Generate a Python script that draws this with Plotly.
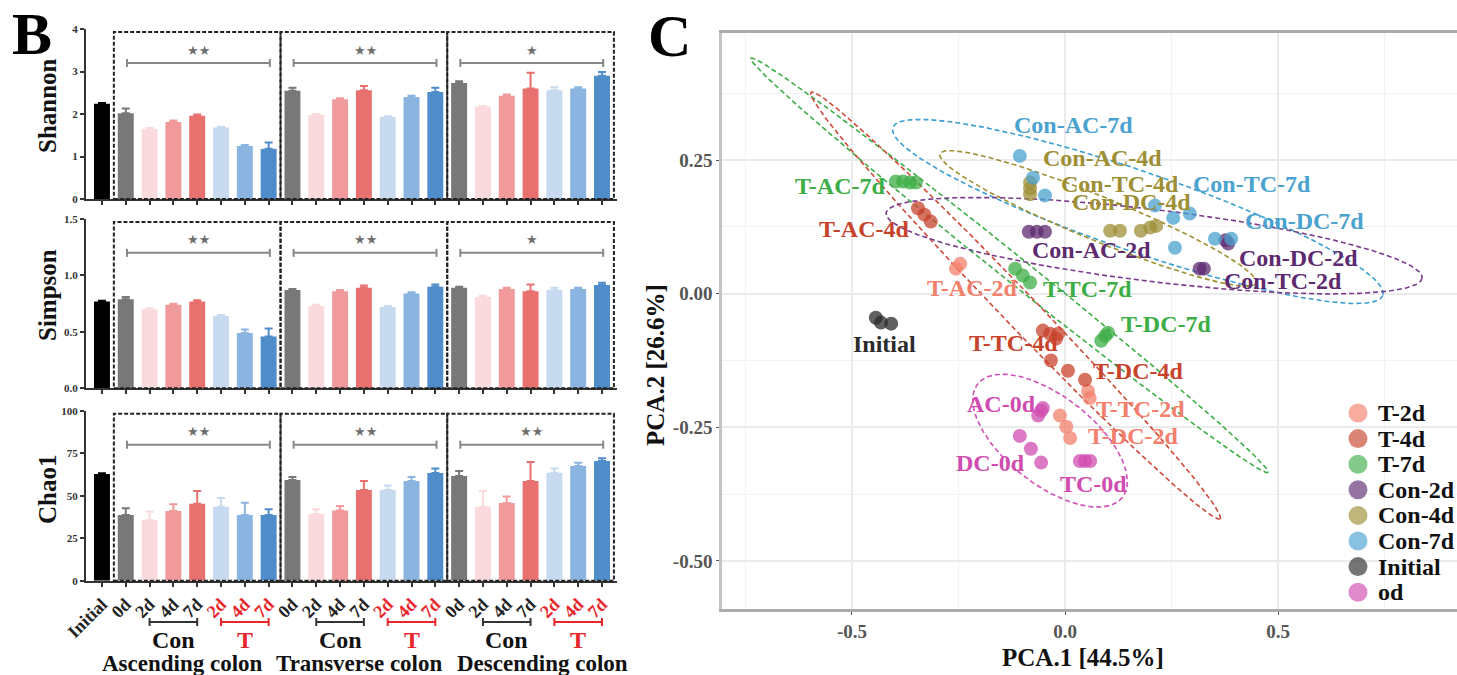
import numpy as np
import plotly.graph_objects as go

W, H = 1457, 675
SERIF = "Liberation Serif"


def px(x):
    return x / W


def py(y):
    return 1 - y / H


# ---------------- Panel B: alpha diversity ----------------
bar_labels = ["Initial"] + ["0d", "2d", "4d", "7d", "2d", "4d", "7d"] * 3
group_names = ["Initial", "0d", "Con-2d", "Con-4d", "Con-7d", "T-2d", "T-4d", "T-7d"]
group_colors = ["#000000", "#787878", "#FADADC", "#F09A9C", "#E8716F",
                "#C7DAF0", "#8BB5E0", "#4F8CCA"]
colon_names = ["Ascending colon", "Transverse colon", "Descending colon"]

shannon_mean = [2.24, 2.02, 1.65, 1.81, 1.96, 1.68, 1.25, 1.18,
                2.55, 1.98, 2.35, 2.56, 1.93, 2.40, 2.52,
                2.73, 2.17, 2.43, 2.60, 2.56, 2.60, 2.90]
shannon_err = [0.02, 0.11, 0.02, 0.04, 0.03, 0.02, 0.02, 0.15,
               0.07, 0.02, 0.02, 0.10, 0.02, 0.03, 0.10,
               0.04, 0.02, 0.03, 0.37, 0.07, 0.03, 0.09]
simpson_mean = [0.77, 0.79, 0.70, 0.74, 0.77, 0.64, 0.49, 0.46,
                0.87, 0.73, 0.86, 0.89, 0.72, 0.84, 0.90,
                0.89, 0.81, 0.88, 0.86, 0.87, 0.88, 0.915]
simpson_err = [0.005, 0.02, 0.01, 0.01, 0.01, 0.01, 0.03, 0.07,
               0.01, 0.01, 0.01, 0.02, 0.01, 0.01, 0.02,
               0.01, 0.01, 0.01, 0.06, 0.02, 0.01, 0.02]
chao1_mean = [62.7, 38.6, 35.7, 41.0, 45.2, 43.5, 38.6, 38.6,
              59.2, 39.2, 41.3, 53.3, 53.3, 58.7, 63.3,
              61.6, 43.5, 45.7, 58.7, 63.5, 67.4, 70.4]
chao1_err = [0.5, 4.0, 5.0, 4.0, 7.6, 5.1, 7.3, 3.4,
             1.8, 2.8, 2.7, 5.4, 2.7, 2.3, 2.7,
             2.9, 9.3, 3.9, 11.1, 2.5, 2.0, 1.6]
sig_shannon = ["**", "**", "*"]
sig_simpson = ["**", "**", "*"]
sig_chao1 = ["**", "**", "**"]

# ---------------- Panel C: PCA ----------------
pca_groups = ["T-2d", "T-4d", "T-7d", "Con-2d", "Con-4d", "Con-7d", "Initial", "od"]
pca_colors = ["#F2806C", "#C8432C", "#3DAE46", "#5D2A70", "#9E8F35",
              "#4AA2CF", "#2B2B2B", "#D04CB0"]

t2d_pc1 = [-0.246, -0.256, 0.054, 0.058, -0.012, 0.003, 0.012]
t2d_pc2 = [0.056, 0.047, -0.182, -0.195, -0.228, -0.249, -0.270]
t4d_pc1 = [-0.345, -0.330, -0.315, -0.052, -0.035, -0.016, -0.021, -0.033, 0.007, 0.047]
t4d_pc2 = [0.160, 0.148, 0.135, -0.069, -0.075, -0.075, -0.084, -0.125, -0.144, -0.161]
t7d_pc1 = [-0.397, -0.380, -0.364, -0.350, -0.117, -0.099, -0.082, 0.085, 0.094, 0.101]
t7d_pc2 = [0.210, 0.210, 0.208, 0.208, 0.047, 0.034, 0.021, -0.088, -0.079, -0.073]
con2d_pc1 = [-0.085, -0.066, -0.047, 0.316, 0.326, 0.383, 0.377]
con2d_pc2 = [0.116, 0.116, 0.116, 0.047, 0.047, 0.094, 0.100]
con4d_pc1 = [-0.082, -0.082, -0.082, 0.106, 0.129, 0.178, 0.200, 0.214]
con4d_pc2 = [0.208, 0.197, 0.186, 0.118, 0.118, 0.118, 0.124, 0.127]
con7d_pc1 = [-0.106, -0.075, -0.047, 0.211, 0.254, 0.293, 0.258, 0.352, 0.390]
con7d_pc2 = [0.258, 0.217, 0.184, 0.165, 0.142, 0.150, 0.086, 0.103, 0.103]
initial_pc1 = [-0.444, -0.432, -0.408]
initial_pc2 = [-0.045, -0.054, -0.056]
od_pc1 = [-0.056, -0.063, -0.052, -0.106, -0.080, -0.056, 0.035, 0.047, 0.059]
od_pc2 = [-0.219, -0.228, -0.214, -0.266, -0.290, -0.316, -0.313, -0.313, -0.313]

# sample labels: text, PC1, PC2, group
label_text = ["Con-AC-7d", "Con-AC-4d", "Con-TC-4d", "Con-TC-7d", "Con-DC-4d",
              "Con-DC-7d", "Con-AC-2d", "Con-DC-2d", "Con-TC-2d", "T-TC-7d",
              "T-DC-7d", "T-DC-4d", "T-TC-2d", "T-DC-2d", "TC-0d", "AC-0d",
              "DC-0d", "T-TC-4d", "Initial", "T-AC-7d", "T-AC-4d", "T-AC-2d"]
label_pc1 = [0.021, 0.089, 0.128, 0.440, 0.156, 0.562, 0.062, 0.549, 0.512, 0.052,
             0.236, 0.171, 0.177, 0.160, 0.066, -0.148, -0.176, -0.122, -0.423,
             -0.527, -0.472, -0.219]
label_pc2 = [0.316, 0.255, 0.206, 0.206, 0.172, 0.137, 0.082, 0.066, 0.024, 0.009,
             -0.056, -0.144, -0.215, -0.266, -0.356, -0.206, -0.316, -0.092, -0.094,
             0.202, 0.122, 0.011]
label_group = ["Con-7d", "Con-4d", "Con-4d", "Con-7d", "Con-4d", "Con-7d", "Con-2d",
               "Con-2d", "Con-2d", "T-7d", "T-7d", "T-4d", "T-2d", "T-2d", "od", "od",
               "od", "T-4d", "Initial", "T-7d", "T-4d", "T-2d"]

# confidence ellipses: centre, semi-axis vectors (PC1, PC2 units)
ell_group = ["T-7d", "T-4d", "Con-7d", "Con-4d", "Con-2d", "od"]
ell_cx = [-0.130, -0.116, 0.171, 0.0775, 0.209, -0.035]
ell_cy = [0.053, -0.022, 0.154, 0.141, 0.090, -0.275]
ell_ax = [0.607, 0.480, 0.575, 0.371, 0.629, 0.170]
ell_ay = [-0.3875, -0.399, -0.157, -0.121, -0.0607, -0.106]
ell_bx = [-0.019, -0.0288, -0.0304, -0.0195, -0.0101, -0.0636]
ell_by = [-0.019, -0.0221, -0.0708, -0.0382, -0.0669, -0.065]
ell_colors = ["#3DAE46", "#D04A3A", "#3A9FD0", "#A09032", "#7A3C8C", "#D050B8"]

fig = go.Figure()

# ---------------- bars ----------------
metrics = [
    ("Shannon", shannon_mean, shannon_err, sig_shannon, "x", "y"),
    ("Simpson", simpson_mean, simpson_err, sig_simpson, "x2", "y2"),
    ("Chao1", chao1_mean, chao1_err, sig_chao1, "x3", "y3"),
]


def bar_group(i):
    return 0 if i == 0 else (i - 1) % 7 + 1


positions = np.arange(len(bar_labels))
for name, mean, err, sig, xa, ya in metrics:
    mean = np.asarray(mean)
    err = np.asarray(err)
    for g, col in enumerate(group_colors):
        idx = [i for i in positions if bar_group(i) == g]
        fig.add_trace(go.Bar(
            x=idx, y=mean[idx], width=0.67, marker=dict(color=col, line=dict(width=0)),
            error_y=dict(type="data", symmetric=False, array=err[idx],
                         arrayminus=[0] * len(idx), color=col, thickness=2, width=4),
            xaxis=xa, yaxis=ya, showlegend=False, name=f"{name} {group_names[g]}"))

# ---------------- PCA points ----------------
pca_x = [t2d_pc1, t4d_pc1, t7d_pc1, con2d_pc1, con4d_pc1, con7d_pc1, initial_pc1, od_pc1]
pca_y = [t2d_pc2, t4d_pc2, t7d_pc2, con2d_pc2, con4d_pc2, con7d_pc2, initial_pc2, od_pc2]

t = np.linspace(0, 2 * np.pi, 240)
for k, g in enumerate(ell_group):
    ex = ell_cx[k] + ell_ax[k] * np.cos(t) + ell_bx[k] * np.sin(t)
    ey = ell_cy[k] + ell_ay[k] * np.cos(t) + ell_by[k] * np.sin(t)
    fig.add_trace(go.Scatter(x=ex, y=ey, mode="lines",
                             line=dict(color=ell_colors[k], width=1.6, dash="5px,3px"),
                             xaxis="x4", yaxis="y4", showlegend=False, hoverinfo="skip"))

for g, col, xs, ys in zip(pca_groups, pca_colors, pca_x, pca_y):
    fig.add_trace(go.Scatter(x=xs, y=ys, mode="markers", name=g,
                             marker=dict(color=col, size=14, opacity=0.75, line=dict(width=0)),
                             xaxis="x4", yaxis="y4", showlegend=False))

annotations = []
shapes = []


def note(text, x, y, xref="paper", yref="paper", size=24, color="#111",
         family=SERIF, xanchor="center", yanchor="middle", angle=0):
    annotations.append(dict(text=text, x=x, y=y, xref=xref, yref=yref, showarrow=False,
                            xanchor=xanchor, yanchor=yanchor, textangle=angle,
                            font=dict(family=family, size=size, color=color)))


# ---------------- axes of panel B ----------------
xdom = [px(86), px(617)]
ydoms = [[py(199), py(29)], [py(388.3), py(219)], [py(580.7), py(410.7)]]
yranges = [[0, 4], [0, 1.5], [0, 100]]
ytickvals = [[0, 1, 2, 3, 4], [0, 0.5, 1.0, 1.5], [0, 25, 50, 75, 100]]
yticktext = [["0", "1", "2", "3", "4"], ["0.0", "0.5", "1.0", "1.5"],
             ["0", "25", "50", "75", "100"]]
title_y = [106, 295, 490]

T_RED = "#E8262A"
ticktext_x = []
for i, lab in enumerate(bar_labels):
    if bar_group(i) >= 5:
        ticktext_x.append(f'<span style="color:{T_RED}">{lab}</span>')
    else:
        ticktext_x.append(lab)

layout_axes = {}
for k in range(3):
    xs = "" if k == 0 else str(k + 1)
    layout_axes[f"xaxis{xs}"] = dict(
        domain=xdom, anchor=f"y{xs}", range=[-0.67, 21.63], automargin=False,
        tickvals=list(positions), ticktext=ticktext_x, showticklabels=(k == 2),
        tickangle=-45, tickfont=dict(family=SERIF, size=18, color="#222", weight="bold"),
        ticks="outside", ticklen=4, tickwidth=1.5, tickcolor="#333",
        showline=True, linecolor="#333", linewidth=2, showgrid=False, zeroline=False)
    layout_axes[f"yaxis{xs}"] = dict(
        domain=ydoms[k], anchor=f"x{xs}", range=yranges[k], automargin=False,
        tickvals=ytickvals[k], ticktext=yticktext[k],
        tickfont=dict(family=SERIF, size=11, color="#333", weight="bold"),
        ticks="outside", ticklen=4, tickwidth=1.5, tickcolor="#333",
        showline=True, linecolor="#333", linewidth=2, showgrid=False, zeroline=False)

    xr = f"x{xs}"
    yd = f"y{xs} domain"
    name, mean, err, sig, _, _ = metrics[k]
    note(f"<b>{name}</b>", px(47), py(title_y[k]), size=25, angle=-90)
    for s in range(3):
        x0 = 0.5 + 7 * s
        x1 = x0 + 7
        shapes.append(dict(type="rect", xref=xr, yref=yd, x0=x0, x1=x1, y0=0, y1=0.982,
                           line=dict(color="#222", width=2, dash="4px,2px")))
        # significance bracket
        b0, b1 = x0 + 0.55, x1 - 0.45
        shapes.append(dict(type="line", xref=xr, yref=yd, x0=b0, x1=b1, y0=0.80, y1=0.80,
                           line=dict(color="#888", width=2)))
        for bx in (b0, b1):
            shapes.append(dict(type="line", xref=xr, yref=yd, ysizemode="pixel", yanchor=0.80,
                               x0=bx, x1=bx, y0=-4, y1=4, line=dict(color="#888", width=2)))
        note("★" * len(sig[s]), (b0 + b1) / 2, 0.82, xref=xr, yref=yd, size=13,
             color="#6E6E6E", family="DejaVu Sans", yanchor="bottom")

# Con / T brackets and colon names under the bottom panel
for s in range(3):
    base = 1 + 7 * s
    for j, (lab, col) in enumerate([("Con", "#333"), ("T", T_RED)]):
        c0 = base + 1 + 3 * j
        c1 = c0 + 2
        shapes.append(dict(type="line", xref="x3", yref="paper", x0=c0, x1=c1,
                           y0=py(622), y1=py(622), line=dict(color=col, width=2)))
        for cx in (c0, c1):
            shapes.append(dict(type="line", xref="x3", yref="paper", ysizemode="pixel",
                               yanchor=py(622), x0=cx, x1=cx, y0=-4, y1=4,
                               line=dict(color=col, width=2)))
        note(f"<b>{lab}</b>", (c0 + c1) / 2, py(640), xref="x3", size=24,
             color="#111" if j == 0 else T_RED)
colon_x = [3.4, 10.8, 18.5]
for s, cname in enumerate(colon_names):
    note(f"<b>{cname}</b>", colon_x[s], py(663), xref="x3", size=23)

# ---------------- axes of panel C ----------------
grid_major = "#EBEBEB"
layout_axes["xaxis4"] = dict(
    domain=[px(722), 1.0], anchor="y4", range=[-0.805, 0.92], automargin=False,
    tickvals=[-0.5, 0, 0.5], ticktext=["-0.5", "0.0", "0.5"],
    tickfont=dict(family=SERIF, size=19, color="#555", weight="bold"),
    ticks="outside", ticklen=3, tickcolor="#555",
    showgrid=True, gridcolor=grid_major, gridwidth=1.5, zeroline=False,
    minor=dict(tickvals=[-0.75, -0.25, 0.25, 0.75], showgrid=True,
               gridcolor="#F2F2F2", gridwidth=1, ticks=""),
    showline=True, mirror=True, linecolor="#ABABAB", linewidth=2.5)
layout_axes["yaxis4"] = dict(
    domain=[py(609), py(33)], anchor="x4", range=[-0.59, 0.488], automargin=False,
    tickvals=[-0.5, -0.25, 0, 0.25], ticktext=["-0.50", "-0.25", "0.00", "0.25"],
    tickfont=dict(family=SERIF, size=19, color="#555", weight="bold"),
    ticks="outside", ticklen=3, tickcolor="#555",
    showgrid=True, gridcolor=grid_major, gridwidth=1.5, zeroline=False,
    minor=dict(tickvals=[-0.375, -0.125, 0.125, 0.375], showgrid=True,
               gridcolor="#F2F2F2", gridwidth=1, ticks=""),
    showline=True, linecolor="#C4C4C4", linewidth=2.5)

note("<b>PCA.1 [44.5%]</b>", px(1083), py(657), size=25)
note("<b>PCA.2 [26.6%]</b>", px(655), py(365), size=25, angle=-90)

group_color = dict(zip(pca_groups, pca_colors))
for txt, lx, ly, g in zip(label_text, label_pc1, label_pc2, label_group):
    note(f"<b>{txt}</b>", lx, ly, xref="x4", yref="y4", size=24, color=group_color[g])

# legend
for k, (g, col) in enumerate(zip(pca_groups, pca_colors)):
    yy = 413 + k * 25.6
    shapes.append(dict(type="circle", xref="paper", yref="paper",
                       xsizemode="pixel", ysizemode="pixel",
                       xanchor=px(1358), yanchor=py(yy), x0=-9.5, x1=9.5, y0=-9.5, y1=9.5,
                       fillcolor=col, opacity=0.65, line=dict(width=0)))
    note(f"<b>{g}</b>", px(1376), py(yy), size=24, xanchor="left")

# panel letters
note("<b>B</b>", px(10), py(34), size=60, color="#000", xanchor="left")
note("<b>C</b>", px(646), py(36), size=60, color="#000", xanchor="left")

fig.update_layout(
    width=W, height=H, margin=dict(l=0, r=0, t=0, b=0, autoexpand=False),
    paper_bgcolor="white", plot_bgcolor="white",
    barmode="overlay", showlegend=False,
    annotations=annotations, shapes=shapes,
    **layout_axes)

fig.write_html("out.html")
